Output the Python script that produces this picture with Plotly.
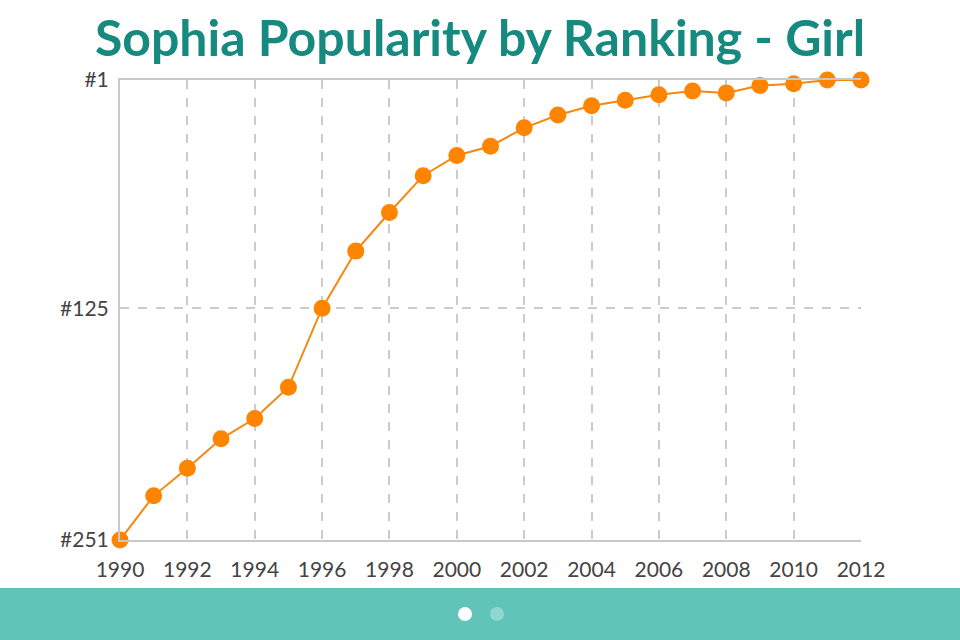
import plotly.graph_objects as go

years = list(range(1990, 2013))
ranks = [251, 227, 212, 196, 185, 168, 125, 94, 73, 53, 42, 37, 27, 20, 15, 12, 9, 7, 8, 4, 3, 1, 1]
y_tickvals = [1, 125, 251]
y_ticktext = ["#1", "#125", "#251"]
x_tickvals = list(range(1990, 2013, 2))
title_text = "Sophia Popularity by Ranking - Girl"

W, H = 960, 640
L, R, T, B = 120, 99, 80, 100
pw, ph = W - L - R, H - T - B

fig = go.Figure()
fig.add_trace(go.Scatter(
    x=years, y=ranks, mode="lines+markers",
    line=dict(color="#f5880f", width=2),
    marker=dict(color="#ff8400", size=17),
    cliponaxis=False, showlegend=False, hoverinfo="skip",
))

def px_x(p):
    return (p - L) / pw

def px_y(p):
    return (H - B - p) / ph

shapes = [
    dict(type="rect", xref="paper", yref="paper",
         x0=px_x(0), x1=px_x(W), y0=px_y(588), y1=px_y(H),
         fillcolor="#61c4b9", line=dict(width=0), layer="below"),
    dict(type="circle", xref="paper", yref="paper",
         x0=px_x(458), x1=px_x(472), y0=px_y(607), y1=px_y(621),
         fillcolor="#ffffff", line=dict(width=0)),
    dict(type="circle", xref="paper", yref="paper",
         x0=px_x(490), x1=px_x(504), y0=px_y(607), y1=px_y(621),
         fillcolor="#8fd8cf", line=dict(width=0)),
]

fig.update_layout(
    width=W, height=H,
    margin=dict(l=L, r=R, t=T, b=B),
    paper_bgcolor="white", plot_bgcolor="white",
    title=dict(text=title_text, x=0.5, xref="container", y=1 - 38 / H, yanchor="middle",
               font=dict(family="Lato", size=50, color="#178a80", weight="bold")),
    font=dict(family="Lato", size=21, color="#444444"),
    shapes=shapes,
    xaxis=dict(range=[1990, 2012], tickvals=x_tickvals, showgrid=True,
               gridcolor="#cccccc", griddash="dash", gridwidth=1.5,
               showline=True, linecolor="#c8c8c8", linewidth=2, mirror=True,
               zeroline=False, ticks="", ticklabelstandoff=10,
               tickfont=dict(family="Lato", size=21, color="#444444")),
    yaxis=dict(range=[251, 1], tickvals=y_tickvals, ticktext=y_ticktext,
               showgrid=True, gridcolor="#cccccc", griddash="dash", gridwidth=1.5,
               showline=True, linecolor="#c8c8c8", linewidth=2,
               zeroline=False, ticks="", ticklabelstandoff=5,
               tickfont=dict(family="Lato", size=21, color="#444444")),
)

fig.write_html("out.html", config={"displayModeBar": False},
               post_script="document.body.style.margin='0';document.body.style.overflow='hidden';")
